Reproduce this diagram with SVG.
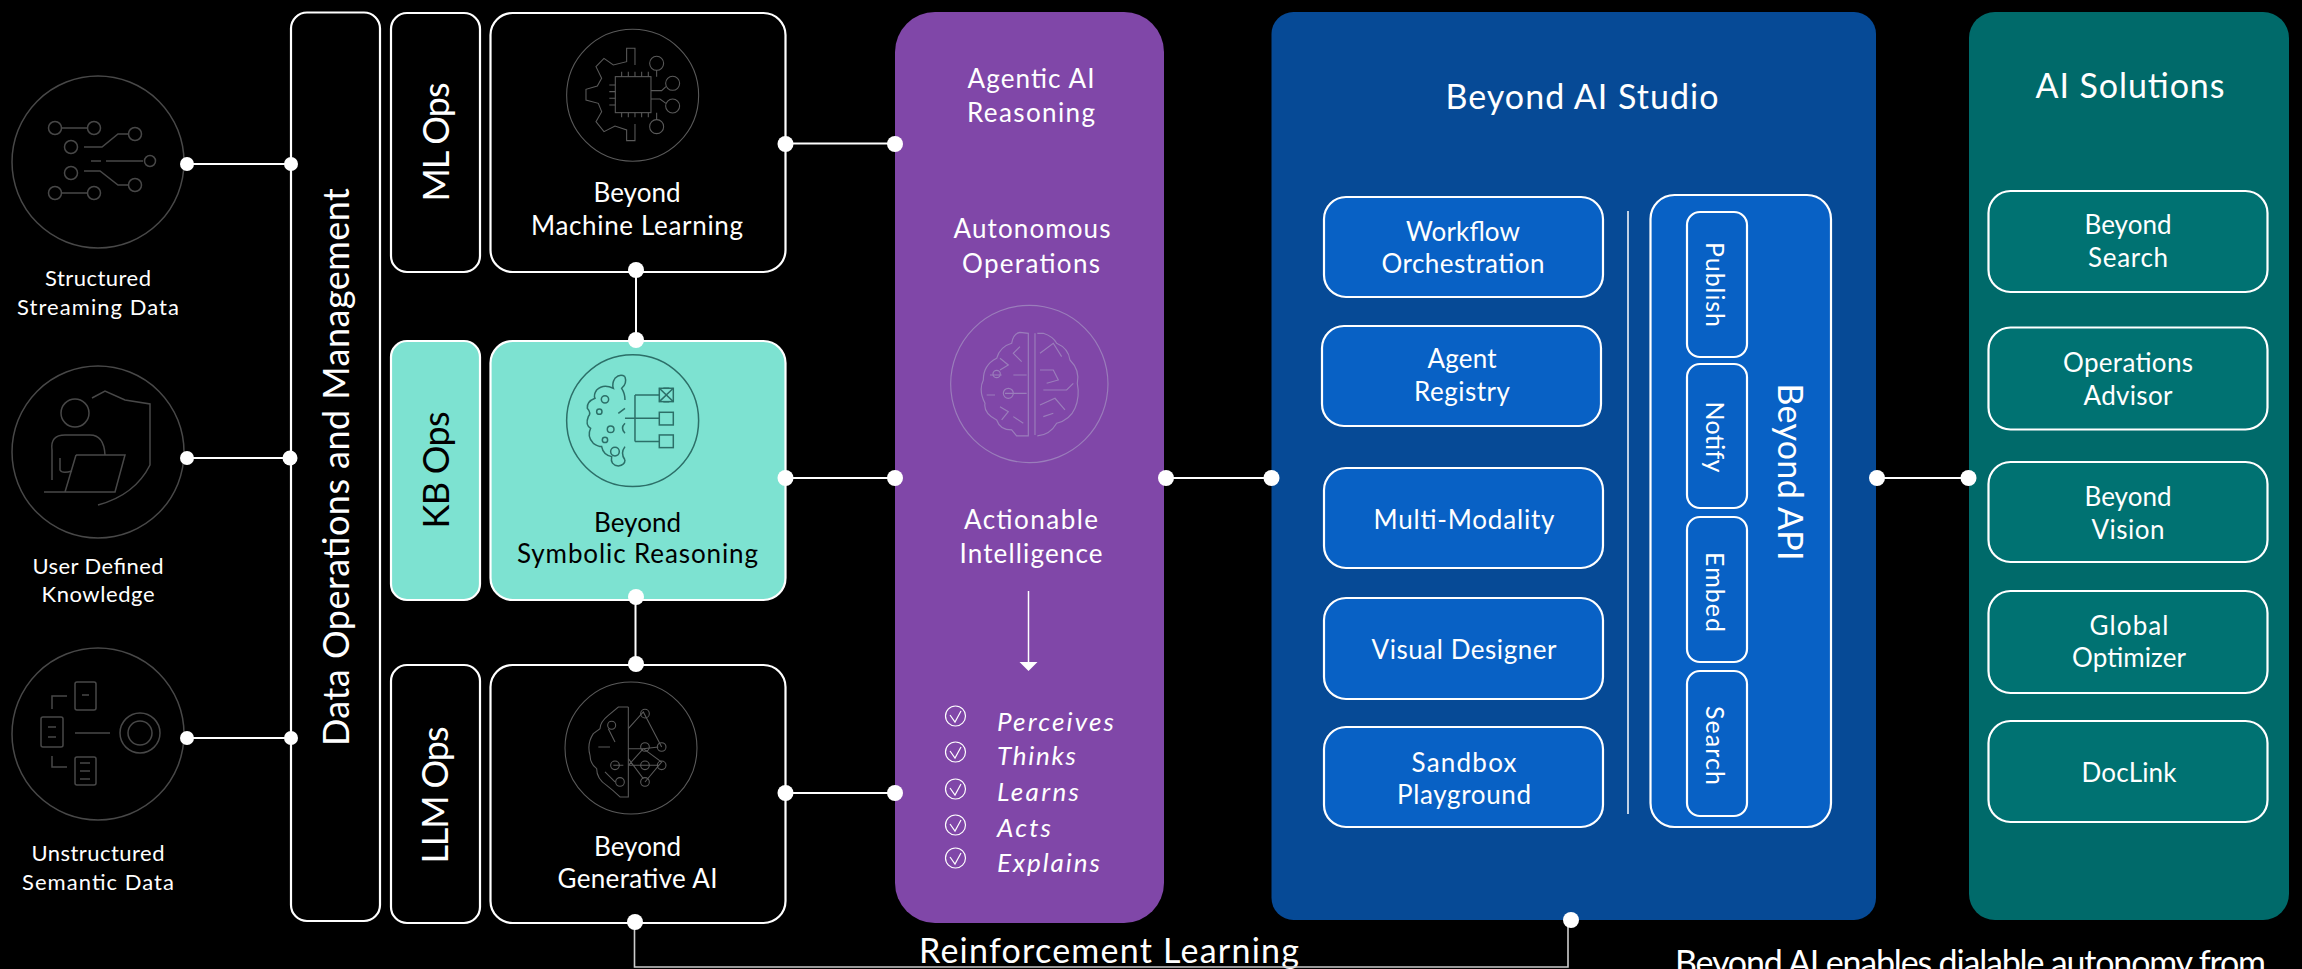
<svg xmlns="http://www.w3.org/2000/svg" width="2302" height="969" viewBox="0 0 2302 969">
<style>
text{font-family:"Lato","Noto Sans","Liberation Sans",sans-serif;fill:#fff;text-anchor:middle}
.s20{font-size:22px}.s24{font-size:26px}.s23{font-size:25px}.s32{font-size:34px}.s33{font-size:36px}
.ink{fill:#000}
.box{fill:#000;stroke:#fff;stroke-width:2.2}
.kb{fill:#7de2d1;stroke:#fff;stroke-width:2.2}
.blue{fill:#0861c5;stroke:#fff;stroke-width:2.2}
.teal{fill:#007272;stroke:#fff;stroke-width:2.2}
.conn{fill:none;stroke:#fff;stroke-width:2}
.fb{fill:none;stroke:#ccc;stroke-width:1.6}
.dot{fill:#fff}
.ic{fill:none;stroke:#484848;stroke-width:1.5}
.ic3{fill:none;stroke:#5a5a5a;stroke-width:3.2}
.icp{fill:none;stroke:#9a7dbb;stroke-width:3.5}
.ick{fill:none;stroke:#2c6f68;stroke-width:4.5}
.chk{fill:none;stroke:#fff;stroke-width:1.2}
</style>
<rect width="2302" height="969" fill="#000"/>

<g id="src-structured">
<circle class="ic" cx="98" cy="162" r="86"/>
<g class="ic">
<circle cx="55" cy="128" r="6.5"/><circle cx="94" cy="128" r="6.5"/><path d="M62,128H87"/>
<circle cx="135" cy="134" r="6.5"/><circle cx="71" cy="147" r="6.5"/><path d="M84,147H102L118,134H128"/>
<path d="M91,161H101M106,161H143"/><circle cx="150" cy="161" r="5.5"/>
<circle cx="71" cy="173" r="6.5"/><path d="M84,171H100L118,185H128"/><circle cx="135" cy="185" r="6.5"/>
<circle cx="55" cy="193" r="6.5"/><circle cx="94" cy="193" r="6.5"/><path d="M62,193H87"/>
</g>
<text class="s20" x="98" y="286" textLength="106">Structured</text>
<text class="s20" x="98" y="315" textLength="162">Streaming Data</text>
</g>

<g id="src-user">
<circle class="ic" cx="98" cy="452" r="86"/>
<g class="ic">
<circle cx="75" cy="413" r="14"/>
<path d="M92,398L105,391L125,400L150,404V465Q135,495 98,505"/>
<path d="M52,480V450Q50,435 65,435H90Q104,435 105,455"/>
<path d="M60,458V470Q62,474 72,471"/>
<path d="M76,455H125L115,492H44M76,455L65,492"/>
</g>
<text class="s20" x="98" y="574" textLength="131">User Defined</text>
<text class="s20" x="98" y="602" textLength="113">Knowledge</text>
</g>

<g id="src-unstructured">
<circle class="ic" cx="98" cy="734" r="86"/>
<g class="ic">
<rect x="75" y="682" width="21" height="28" rx="2"/><path d="M82,695H89"/>
<rect x="41" y="717" width="22" height="30" rx="2"/><path d="M48,727H56M48,737H56"/>
<rect x="75" y="757" width="21" height="28" rx="2"/><path d="M80,763H90M80,771H90M80,779H90"/>
<path d="M67,696H52V709M52,756V767H67M75,733H110"/>
<circle cx="140" cy="733" r="20"/><circle cx="140" cy="733" r="12"/>
</g>
<text class="s20" x="98" y="861" textLength="133">Unstructured</text>
<text class="s20" x="98" y="890" textLength="152">Semantic Data</text>
</g>

<g id="data-ops">
<rect class="box" x="291" y="12.500" width="89" height="908.500" rx="16"/>
<text class="s33" transform="translate(349,467) rotate(-90)" textLength="558">Data Operations and Management</text>
</g>

<g id="ml-ops">
<rect class="box" x="391" y="13" width="89" height="259" rx="16"/>
<text class="s33" transform="translate(449,142) rotate(-90)" textLength="119">ML Ops</text>
</g>
<g id="kb-ops">
<rect class="kb" x="391" y="341" width="89" height="259" rx="16"/>
<text class="s33 ink" transform="translate(449,470) rotate(-90)" textLength="117">KB Ops</text>
</g>
<g id="llm-ops">
<rect class="box" x="391" y="665" width="89" height="258" rx="16"/>
<text class="s33" transform="translate(448,795) rotate(-90)" textLength="137">LLM Ops</text>
</g>

<g id="machine-learning">
<rect class="box" x="490.500" y="13" width="295" height="259" rx="22"/>
<g transform="translate(380,0) scale(.3333)">
<circle class="ic3" cx="758" cy="286" r="198"/>
<g class="ic3">
<rect x="706" y="230" width="107" height="108"/>
<path d="M765,195V145H740V185L700,195L672,175L648,200L665,235L652,258L618,268V300L655,310L665,335L648,365L672,395L705,378L740,390V422H765V372"/>
<path d="M725,215V230M745,215V230M765,215V230M785,215V230M805,215V230M725,338V352M745,338V352M765,338V352M785,338V352M805,338V352M688,255H706M688,275H706M688,295H706M688,315H706"/>
<path d="M813,272H845L858,260M813,297H840L858,310M830,230V210M830,338V360"/>
<circle cx="878" cy="250" r="21"/><circle cx="878" cy="318" r="21"/><circle cx="830" cy="190" r="21"/><circle cx="830" cy="380" r="21"/>
</g>
</g>
<text class="s24" x="637" y="202" textLength="87">Beyond</text>
<text class="s24" x="637" y="235" textLength="212">Machine Learning</text>
</g>

<g id="symbolic-reasoning">
<rect class="kb" x="490.500" y="341" width="295" height="259" rx="22"/>
<g transform="translate(380,0) scale(.3333)">
<circle class="ick" cx="758" cy="1262" r="198"/>
<g class="ick">
<path d="M735,1130Q720,1120 705,1135Q695,1150 700,1165Q670,1150 650,1170Q640,1185 645,1195Q620,1205 622,1225Q635,1240 625,1250Q615,1275 632,1285Q620,1310 640,1330Q655,1340 665,1340Q670,1365 695,1370Q690,1395 715,1398Q735,1395 735,1380"/>
<path d="M735,1130Q742,1150 725,1165Q735,1180 735,1200M735,1225L715,1240M735,1380Q720,1360 735,1340M735,1300Q720,1285 735,1270"/>
<circle cx="675" cy="1198" r="11"/><circle cx="658" cy="1235" r="8"/><circle cx="692" cy="1288" r="10"/><circle cx="675" cy="1320" r="8"/><circle cx="705" cy="1355" r="13"/>
<path d="M735,1255H840M765,1185V1325M765,1185H838M765,1325H838"/>
<rect x="838" y="1165" width="42" height="40"/><path d="M838,1165L880,1205M880,1165L838,1205M850,1165H868M850,1205H868"/>
<rect x="838" y="1237" width="42" height="38"/><rect x="838" y="1305" width="42" height="38"/>
</g>
</g>
<text class="s24 ink" x="637.500" y="532" textLength="87">Beyond</text>
<text class="s24 ink" x="637.500" y="563" textLength="241">Symbolic Reasoning</text>
</g>

<g id="generative-ai">
<rect class="box" x="490.500" y="665" width="295" height="258" rx="22"/>
<g transform="translate(565,682) scale(.3333)">
<circle class="ic3" cx="198" cy="198" r="198"/>
<g class="ic3">
<path d="M190,75H160L130,100Q105,120 105,140L85,155Q65,185 75,220Q75,245 95,260Q95,290 125,310Q145,325 165,345H190V75"/>
<path d="M190,140L235,90L290,195M190,200H235L280,195M190,250L235,200L290,240L240,300M190,250H280M190,230L235,290M100,195H135M130,140L150,180M145,250H175M120,270L150,300"/>
<circle cx="240" cy="95" r="13"/><circle cx="240" cy="195" r="13"/><circle cx="290" cy="195" r="13"/><circle cx="240" cy="250" r="13"/><circle cx="290" cy="250" r="13"/><circle cx="240" cy="300" r="13"/><circle cx="150" cy="250" r="13"/><circle cx="165" cy="300" r="13"/><circle cx="140" cy="130" r="12"/>
</g>
</g>
<text class="s24" x="637.500" y="856" textLength="87">Beyond</text>
<text class="s24" x="637.500" y="888" textLength="160">Generative AI</text>
</g>

<g id="agentic-panel">
<rect x="895" y="12" width="269" height="911" rx="40" fill="#8047a8"/>
<text class="s24" x="1031" y="88" textLength="127">Agentic AI</text>
<text class="s24" x="1031" y="122" textLength="128">Reasoning</text>
<text class="s24" x="1032" y="238" textLength="157">Autonomous</text>
<text class="s24" x="1031" y="273" textLength="138">Operations</text>
<g transform="translate(880,0) scale(.3333)">
<circle class="icp" cx="448" cy="1152" r="236"/>
<g class="icp">
<path d="M445,1000V1308H410L395,1290Q360,1290 350,1260Q310,1240 315,1210Q295,1170 310,1140Q310,1095 350,1075Q360,1040 395,1030Q400,1000 420,997Z"/>
<path d="M465,1000V1305M472,1000H490Q520,1010 530,1030Q565,1045 570,1080Q600,1110 592,1150Q600,1190 585,1225Q570,1260 530,1270Q510,1305 472,1308"/>
<path d="M360,1075L385,1095L360,1110M330,1125H365M320,1185H345M440,1125H400M375,1180H440M360,1220L385,1235L365,1260M420,1040L400,1060L425,1085M400,1250L430,1270"/>
<circle cx="385" cy="1180" r="15"/><circle cx="350" cy="1122" r="11"/>
<path d="M480,1060L520,1030L545,1070M480,1110H520L535,1140L500,1150M490,1170H560L580,1150M480,1215L525,1195L555,1230M490,1250L520,1240"/>
</g>
</g>
<text class="s24" x="1031" y="529" textLength="134">Actionable</text>
<text class="s24" x="1031" y="563" textLength="143">Intelligence</text>
<path d="M1028.500,591V662" fill="none" stroke="#fff" stroke-width="1.500"/>
<path d="M1019.500,662H1037.500L1028.500,671Z" fill="#fff"/>
<g id="check-list">
<g class="chk">
<circle cx="955.500" cy="716" r="10"/><path d="M950,715L955,722L961,711"/>
<circle cx="955.500" cy="752" r="10"/><path d="M950,751L955,758L961,747"/>
<circle cx="955.500" cy="789" r="10"/><path d="M950,788L955,795L961,784"/>
<circle cx="955.500" cy="825" r="10"/><path d="M950,824L955,831L961,820"/>
<circle cx="955.500" cy="858" r="10"/><path d="M950,857L955,864L961,853"/>
</g>
<g font-style="italic" class="s24">
<text x="997" y="731" textLength="117" style="text-anchor:start">Perceives</text>
<text x="997" y="765" textLength="79" style="text-anchor:start">Thinks</text>
<text x="997" y="801" textLength="82" style="text-anchor:start">Learns</text>
<text x="997" y="837" textLength="54" style="text-anchor:start">Acts</text>
<text x="997" y="872" textLength="103" style="text-anchor:start">Explains</text>
</g>
</g>
</g>

<g id="studio-panel">
<rect x="1271.500" y="12" width="604.500" height="908" rx="22" fill="#064a96"/>
<text class="s32" x="1582" y="109" textLength="273">Beyond AI Studio</text>
<path d="M1628,211V814" fill="none" stroke="#fff" stroke-width="1.500"/>
</g>
<g id="workflow"><rect class="blue" x="1324" y="197" width="279" height="100" rx="22"/>
<text class="s24" x="1463" y="241" textLength="114">Workflow</text><text class="s24" x="1463" y="273" textLength="163">Orchestration</text></g>
<g id="agent-registry"><rect class="blue" x="1322" y="326" width="279" height="100" rx="22"/>
<text class="s24" x="1462" y="368" textLength="69">Agent</text><text class="s24" x="1462" y="401" textLength="96">Registry</text></g>
<g id="multi-modality"><rect class="blue" x="1324" y="468" width="279" height="100" rx="22"/>
<text class="s24" x="1464" y="529" textLength="181">Multi-Modality</text></g>
<g id="visual-designer"><rect class="blue" x="1324" y="598" width="279" height="101" rx="22"/>
<text class="s24" x="1464" y="659" textLength="185">Visual Designer</text></g>
<g id="sandbox"><rect class="blue" x="1324" y="727" width="279" height="100" rx="22"/>
<text class="s24" x="1464" y="772" textLength="105">Sandbox</text><text class="s24" x="1464" y="804" textLength="134">Playground</text></g>

<g id="beyond-api"><rect class="blue" x="1650.500" y="195" width="180.500" height="632" rx="24"/>
<text class="s32" transform="translate(1778,472) rotate(90)" textLength="177">Beyond API</text></g>
<g id="api-publish"><rect class="blue" x="1687" y="212" width="60" height="145" rx="13"/>
<text class="s23" transform="translate(1706,284.500) rotate(90)" textLength="85">Publish</text></g>
<g id="api-notify"><rect class="blue" x="1687" y="364" width="60" height="144" rx="13"/>
<text class="s23" transform="translate(1706,437) rotate(90)" textLength="71">Notify</text></g>
<g id="api-embed"><rect class="blue" x="1687" y="517" width="60" height="145" rx="13"/>
<text class="s23" transform="translate(1706,592) rotate(90)" textLength="80">Embed</text></g>
<g id="api-search"><rect class="blue" x="1687" y="671" width="60" height="145" rx="13"/>
<text class="s23" transform="translate(1706,745.500) rotate(90)" textLength="79">Search</text></g>

<g id="solutions-panel">
<rect x="1969" y="12" width="320" height="908" rx="26" fill="#006a6a"/>
<text class="s32" x="2130" y="98" textLength="189">AI Solutions</text>
</g>
<g id="beyond-search"><rect class="teal" x="1988.500" y="191" width="279" height="101" rx="22"/>
<text class="s24" x="2128" y="234" textLength="87">Beyond</text><text class="s24" x="2128" y="267" textLength="80">Search</text></g>
<g id="operations-advisor"><rect class="teal" x="1988.500" y="327.500" width="279" height="102" rx="22"/>
<text class="s24" x="2128" y="372" textLength="130">Operations</text><text class="s24" x="2128" y="405" textLength="89">Advisor</text></g>
<g id="beyond-vision"><rect class="teal" x="1988.500" y="462" width="279" height="100" rx="22"/>
<text class="s24" x="2128" y="506" textLength="87">Beyond</text><text class="s24" x="2128" y="539" textLength="73">Vision</text></g>
<g id="global-optimizer"><rect class="teal" x="1988.500" y="591" width="279" height="102" rx="22"/>
<text class="s24" x="2129" y="635" textLength="79">Global</text><text class="s24" x="2129" y="667" textLength="114">Optimizer</text></g>
<g id="doclink"><rect class="teal" x="1988.500" y="721" width="279" height="101" rx="22"/>
<text class="s24" x="2129" y="782" textLength="95">DocLink</text></g>

<text id="rl-label" class="s32" x="1109" y="963" textLength="380">Reinforcement Learning</text>
<text id="autonomy-note" class="s32" x="1970.500" y="975" textLength="591">Beyond AI enables dialable autonomy from</text>

<g id="connectors">
<path class="conn" d="M187,164H291M187,458H290M187,738H291M785.500,143.500H895M785.500,478H895M785.500,793H895M1166,478H1271.500M1877,478H1969M636,272V341M635.500,600V665"/>
<path class="fb" d="M634.500,923V967H1568V920"/>
<g class="dot">
<circle cx="187" cy="164" r="7"/><circle cx="291" cy="164" r="7"/>
<circle cx="187" cy="458" r="7"/><circle cx="290" cy="458" r="7.500"/>
<circle cx="187" cy="738" r="7"/><circle cx="291" cy="738" r="7"/>
<circle cx="785.500" cy="144" r="8"/><circle cx="895" cy="144" r="8"/>
<circle cx="785.500" cy="478" r="8"/><circle cx="895" cy="478" r="8"/>
<circle cx="785.500" cy="793" r="8"/><circle cx="895" cy="793" r="8"/>
<circle cx="636" cy="270" r="8"/><circle cx="636" cy="340" r="8"/>
<circle cx="636" cy="597" r="8"/><circle cx="636" cy="664" r="8"/>
<circle cx="635" cy="922" r="8"/>
<circle cx="1571" cy="920" r="8"/>
<circle cx="1166" cy="478" r="8"/><circle cx="1271.500" cy="478" r="8"/>
<circle cx="1877" cy="478" r="8"/><circle cx="1968.500" cy="478" r="8"/>
</g>
</g>
</svg>
